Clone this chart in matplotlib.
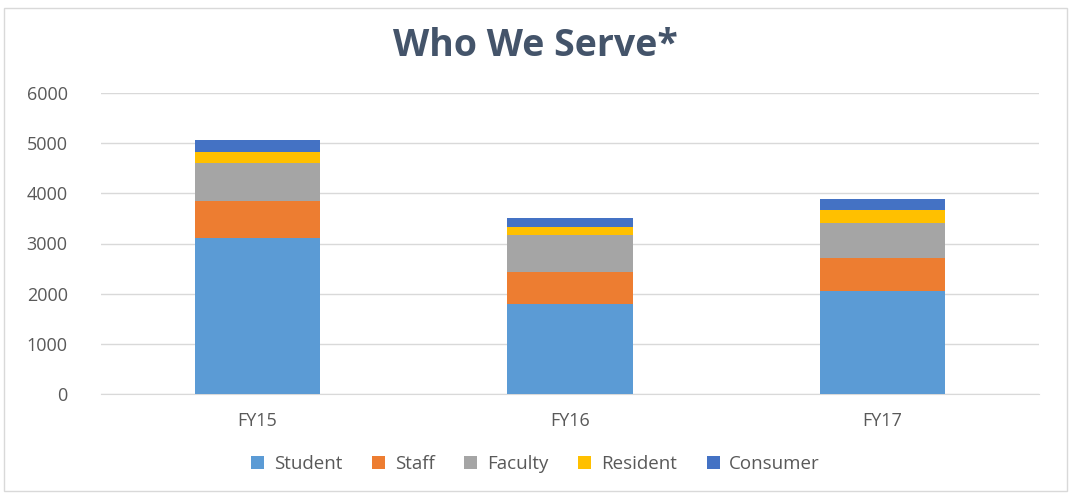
import matplotlib.pyplot as plt
from matplotlib.patches import Rectangle
import numpy as np

years = ['FY15', 'FY16', 'FY17']
groups = ['Student', 'Staff', 'Faculty', 'Resident', 'Consumer']
student = [3110, 1790, 2060]
staff = [735, 640, 650]
faculty = [755, 740, 700]
resident = [220, 160, 260]
consumer = [240, 170, 215]
colors = ['#5B9BD5', '#ED7D31', '#A5A5A5', '#FFC000', '#4472C4']

plt.rcParams['font.family'] = ['Open Sans', 'DejaVu Sans']

fig = plt.figure(figsize=(10.71, 4.95), dpi=100)
ax = fig.add_axes([101/1071, 1 - 394/495, 938/1071, 301/495])

x = np.arange(len(years))
bottom = np.zeros(len(years))
for name, vals, c in zip(groups, [student, staff, faculty, resident, consumer], colors):
    ax.bar(x, vals, 0.4, bottom=bottom, color=c, label=name, zorder=3)
    bottom += np.array(vals)

ax.set_xlim(-0.5, 2.5)
ax.set_ylim(0, 6000)
ax.set_yticks(range(0, 6001, 1000))
ax.set_xticks(x)
ax.set_xticklabels(years)
ax.yaxis.grid(True, color='#d9d9d9', linewidth=1, zorder=0)
for s in ax.spines.values():
    s.set_visible(False)
ax.spines['bottom'].set_visible(True)
ax.spines['bottom'].set_color('#d9d9d9')
ax.tick_params(length=0, labelsize=13, colors='#595959')
ax.tick_params(axis='x', pad=13)
ax.tick_params(axis='y', pad=24)

fig.suptitle('Who We Serve*', y=0.945, fontsize=27, fontweight='bold', color='#44546A')

fig.legend(loc='center', bbox_to_anchor=(0.5, 1 - 464/495), ncol=5, frameon=False,
           fontsize=13.5, handlelength=0.7, handleheight=0.7, columnspacing=1.6,
           handletextpad=0.5, labelcolor='#595959')

fig.patches.append(Rectangle((4/1071, 4/495), 1 - 8/1071, 1 - 12/495, transform=fig.transFigure,
                             fill=False, edgecolor='#d9d9d9', linewidth=1))

fig.savefig('out.png', dpi=100)
